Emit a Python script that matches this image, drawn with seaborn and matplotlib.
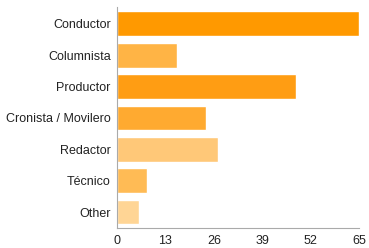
import matplotlib
matplotlib.use("Agg")
import matplotlib.pyplot as plt
import seaborn as sns

categorias = ["Conductor", "Columnista", "Productor", "Cronista / Movilero",
              "Redactor", "Técnico", "Other"]
valores = [65, 16, 48, 24, 27, 8, 6]
colores = ["#ff9900", "#ffb445", "#ff9d13", "#ffaa30", "#ffc878", "#ffbb55", "#ffd595"]
ticks_x = [0, 13, 26, 39, 52, 65]

sns.set_style("white")
plt.rcParams['font.family'] = ['Liberation Sans', 'DejaVu Sans']

fig = plt.figure(figsize=(3.69, 2.48), dpi=100)
ax = fig.add_axes([0.317, 0.079, 0.657, 0.891])

sns.barplot(x=valores, y=categorias, hue=categorias, palette=colores,
            orient="h", width=0.79, legend=False, ax=ax, saturation=1)

ax.set_xlim(0, 65)
ax.set_ylim(6.52, -0.52)
ax.set_xticks(ticks_x)
ax.set_xlabel("")
ax.set_ylabel("")
ax.tick_params(axis="both", labelsize=9, colors="#222222", length=3, width=0.8,
               pad=1.5)
ax.tick_params(axis="both", color="#aaaaaa")
for s in ["top", "right"]:
    ax.spines[s].set_visible(False)
for s in ["left", "bottom"]:
    ax.spines[s].set_color("#aaaaaa")
    ax.spines[s].set_linewidth(0.8)

fig.savefig("out.png", dpi=100)
